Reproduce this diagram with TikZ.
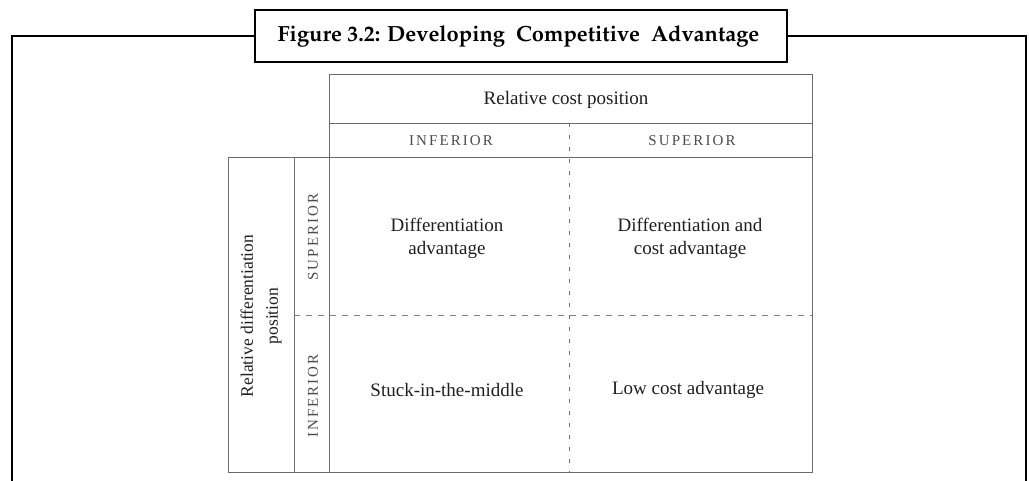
\documentclass[tikz,border=0pt]{standalone}
\usepackage[T1]{fontenc}
\usepackage{fontspec}
\setmainfont{Liberation Serif}
\begin{document}
\begin{tikzpicture}[x=1pt,y=-1pt,
  frame/.style={line width=2.3pt,draw=black},
  titlebox/.style={draw=black,line width=2.6pt,fill=white,minimum width=532pt,minimum height=52pt,inner sep=0pt,
    font=\fontencoding{T1}\fontfamily{ppl}\fontseries{b}\fontsize{21.9}{25}\selectfont},
  grid/.style={draw=black!58,line width=1pt},
  hdash/.style={draw=black!50,line width=1pt,dash pattern=on 6pt off 6pt},
  vdash/.style={draw=black!55,line width=0.9pt,dash pattern=on 4pt off 8pt},
  celltext/.style={text=black!88,font=\fontsize{19}{23}\selectfont,align=center,inner sep=0pt},
  headtext/.style={text=black!70,font=\fontsize{15}{18}\selectfont,inner sep=0pt},
  sidetext/.style={text=black!88,font=\fontsize{17.5}{25}\selectfont,align=center,inner sep=0pt},
]
\useasboundingbox (0,0) rectangle (1029,480);
% title and outer frame
\node[titlebox] (title) at (521,36) {\hspace*{-5pt}Figure 3.2: Developing\ \ Competitive\ \ Advantage};
\coordinate (fl) at (12,36);
\coordinate (flb) at (12,481);
\coordinate (fr) at (1026,36);
\coordinate (frb) at (1026,481);
\draw[frame] (title.west) -- (fl) -- (flb);
\draw[frame] (title.east) -- (fr) -- (frb);
% table grid
\coordinate (tl) at (329,74);
\coordinate (tr) at (812,74);
\coordinate (br) at (812,472);
\coordinate (bl) at (228,472);
\draw[grid] (329,472) -- (tl) -- (tr) -- (br) -- (bl) -- (228,157) -- (812,157);
\draw[grid] (329,123) -- (812,123);
\draw[grid] (294,157) -- (294,472);
\draw[vdash] (569,123) -- (569,472);
\draw[hdash] (294,315) -- (812,315);
% texts
\node[celltext] (rcp) at (566,100) {Relative cost position};
\node[headtext] (hinf) at (451,141) {\addfontfeature{LetterSpace=14}INFERIOR};
\node[headtext] (hsup) at (692,141) {\addfontfeature{LetterSpace=14}SUPERIOR};
\node[headtext,rotate=90] (vsup) at (313,237) {\addfontfeature{LetterSpace=14}SUPERIOR};
\node[headtext,rotate=90] (vinf) at (313,396) {\addfontfeature{LetterSpace=14}INFERIOR};
\node[sidetext,rotate=90] (rdp) at (261,316) {Relative differentiation\\position};
\node[celltext] (da) at (447,238) {Differentiation\\advantage};
\node[celltext] (dca) at (690,238) {Differentiation and\\cost advantage};
\node[celltext] (stk) at (447,390) {Stuck-in-the-middle};
\node[celltext] (lca) at (688,390) {Low cost advantage};
\end{tikzpicture}
\end{document}
